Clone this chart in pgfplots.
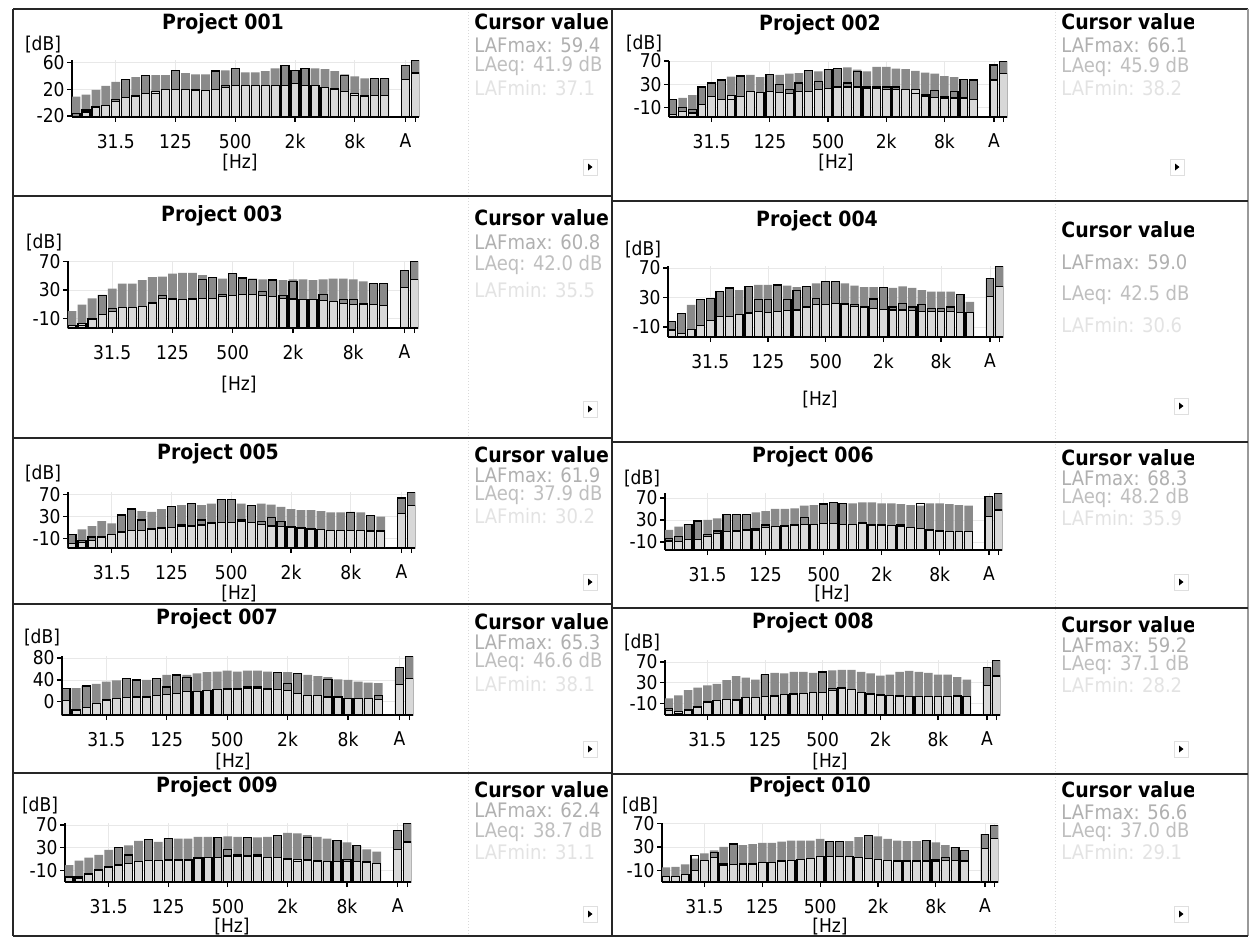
\documentclass[border=0pt]{standalone}
\usepackage{pgfplots}
\pgfplotsset{compat=1.18}
\usepackage{pgfplotstable}
\usepackage{fontspec}
\setmainfont{DejaVu Sans Condensed}
\definecolor{dk}{HTML}{8A8A8A}
\definecolor{lt}{HTML}{D8D8D8}
\newcommand{\tfont}{\fontsize{9.5}{10}\selectfont}
\newcommand{\hfont}{\fontsize{10.5}{11}\selectfont\bfseries}
\newcommand{\cfont}{\fontsize{10}{11}\selectfont}

\pgfplotsset{
  panel/.style={
    scale only axis, anchor=north west,
    ybar, bar width=0.8,
    xmin=-0.4, xmax=34.45, ymin=0,
    axis x line*=bottom, axis y line*=left,
    xtick={4,10,16,22,28,33.1,34.1},
    xticklabels={31.5,125,500,2k,8k,A,{}},
    tick align=outside,
    major tick length=2.5pt,
    grid=major,
    grid style={gray!18,line width=0.4pt},
    tick style={black,line width=0.6pt},
    axis line style={black,line width=0.8pt},
    ticklabel style={font=\tfont},
    xticklabel style={yshift=-2.5pt},
    yticklabel style={inner sep=1pt},
    /pgf/number format/assume math mode=true,
  },
}
\newcommand{\bars}[2]{%
  \addplot[fill=dk, draw=none, bar shift=0pt, bar width=0.88] table[x=x, y expr=\thisrow{hi}+#2] {#1};
  \addplot[fill=lt, draw=none, bar shift=0pt] table[x=x, y expr=\thisrow{lo}+#2] {#1};
  \addplot[fill=none, draw=black, line width=0.6pt, bar shift=0pt] table[x=x, y expr=\thisrow{lo}+#2] {#1};
  \addplot[fill=none, draw=black, line width=0.6pt, bar shift=0pt] table[x=x, y expr=\thisrow{eq}+#2] {#1};
}
% cursor panel: x, clip right, y title, y max, y eq, y min, max, eq, min
\newcommand{\cursor}[9]{%
  \begin{scope}
    \clip (#1-4,#3-16) rectangle (#2,#6+16);
    \node[anchor=west, font=\hfont, inner sep=0] at (#1,#3) {Cursor value};
    \node[anchor=west, font=\cfont, text=gray!62, inner sep=0] at (#1,#4) {LAFmax: #7};
    \node[anchor=west, font=\cfont, text=gray!50, inner sep=0] at (#1,#5) {LAeq: #8 dB};
    \node[anchor=west, font=\cfont, text=gray!22, inner sep=0] at (#1,#6) {LAFmin: #9};
  \end{scope}}
\newcommand{\btn}[2]{%
  \draw[gray!25, line width=0.4pt] (#1-7,#2-8) rectangle (#1+7,#2+8);
  \fill[black] (#1-2,#2-3.5) -- (#1+2.5,#2) -- (#1-2,#2+3.5) -- cycle;}

\pgfplotstableread{
x lo hi eq
0 -21 9 -16
1 -11 12 -14
2 -7 19 -6
3 -4 25 -4
4 2 31 4
5 8 35 35
6 10 38 9
7 13 40 40
8 16 41 14
9 19 41 19
10 19 48 48
11 19 44 19
12 18 42 19
13 18 42 18
14 20 47 47
15 23 48 25
16 25 51 51
17 25 45 25
18 25 45 25
19 25 47 25
20 26 51 25
21 26 55 55
22 29 48 48
23 26 51 51
24 25 51 26
25 23 50 23
26 20 47 21
27 16 42 40
28 14 39 11
29 11 36 9
30 11 36 36
31 11 36 36
33.1 35 55 55
34.1 44 63 63
}\tA
\pgfplotstableread{
x lo hi eq
0 -22 3 3
1 -18 6 -11
2 -20 11 -14
3 -6 25 25
4 8 32 32
5 3 37 37
6 10 43 3
7 8 44 44
8 17 46 17
9 15 42 15
10 17 46 46
11 15 46 29
12 14 48 20
13 17 49 32
14 17 53 53
15 21 52 34
16 23 55 55
17 25 57 57
18 25 59 32
19 25 55 52
20 23 52 25
21 23 60 25
22 21 60 25
23 21 57 25
24 21 56 21
25 20 53 14
26 11 50 9
27 7 48 19
28 6 44 8
29 6 42 17
30 6 38 38
31 4 37 37
33.1 37 63 63
34.1 48 69 69
}\tB
\pgfplotstableread{
x lo hi eq
0 -20 0 -20
1 -18 9 -20
2 -12 18 -10
3 -5 23 22
4 -1 32 4
5 5 39 5
6 5 39 5
7 6 44 6
8 11 48 12
9 18 49 22
10 18 53 16
11 16 54 16
12 17 54 17
13 18 51 45
14 18 48 48
15 21 46 24
16 22 53 53
17 23 48 47
18 23 46 45
19 22 45 28
20 21 44 44
21 18 44 22
22 17 45 42
23 16 45 16
24 16 44 16
25 15 45 23
26 14 46 14
27 11 46 16
28 9 45 16
29 9 42 11
30 9 39 39
31 8 39 39
33.1 33 58 58
34.1 45 70 70
}\tC
\pgfplotstableread{
x lo hi eq
0 -14 -3 -3
1 -19 8 8
2 -13 20 -13
3 -8 27 27
4 -1 29 29
5 4 38 38
6 4 43 43
7 7 40 7
8 9 45 45
9 11 47 27
10 10 47 27
11 11 47 47
12 12 46 27
13 13 44 40
14 17 45 45
15 20 49 29
16 20 52 52
17 22 52 52
18 21 49 22
19 18 46 20
20 17 44 17
21 15 44 28
22 14 44 44
23 13 43 17
24 13 45 22
25 12 43 17
26 11 40 20
27 11 38 15
28 11 38 15
29 11 38 17
30 10 34 34
31 10 24 10
33.1 31 56 56
34.1 45 72 72
}\tD
\pgfplotstableread{
x lo hi eq
0 -20 -4 -4
1 -18 6 -14
2 -14 12 -8
3 -8 21 -8
4 -4 17 -4
5 1 32 32
6 4 43 43
7 4 39 23
8 6 38 8
9 8 43 9
10 9 47 47
11 12 50 15
12 12 53 53
13 14 50 23
14 17 53 18
15 18 61 61
16 18 61 61
17 20 53 23
18 18 50 50
19 15 53 21
20 12 51 27
21 11 47 21
22 9 43 11
23 8 41 9
24 6 41 8
25 6 39 6
26 4 37 4
27 4 37 4
28 4 38 37
29 4 37 4
30 3 31 31
31 3 29 3
33.1 35 63 63
34.1 50 73 73
}\tE
\pgfplotstableread{
x lo hi eq
0 -8 12 -3
1 -9 18 0
2 -6 22 22
3 -5 28 28
4 0 30 3
5 6 33 10
6 9 40 40
7 10 40 40
8 12 40 40
9 15 44 12
10 16 46 21
11 18 50 18
12 18 50 20
13 21 51 21
14 22 56 34
15 22 57 22
16 24 59 59
17 24 62 62
18 22 60 60
19 22 60 22
20 24 62 26
21 22 62 21
22 21 60 20
23 20 60 20
24 18 59 21
25 16 57 16
26 15 56 60
27 12 60 12
28 10 60 10
29 9 59 9
30 9 57 9
31 9 56 9
33.1 36 72 72
34.1 48 78 78
}\tF
\pgfplotstableread{
x lo hi eq
0 3 23 25
1 -15 25 -15
2 -10 29 29
3 -3 33 -3
4 3 37 4
5 6 39 6
6 8 43 43
7 9 41 40
8 9 40 9
9 11 43 43
10 14 49 27
11 15 49 49
12 19 49 45
13 19 52 19
14 20 54 20
15 23 55 23
16 23 57 25
17 23 55 25
18 25 57 27
19 25 57 27
20 23 55 25
21 22 54 54
22 20 54 33
23 15 52 52
24 12 49 12
25 11 47 11
26 9 45 41
27 8 41 9
28 6 40 6
29 6 37 6
30 6 35 6
31 4 34 12
33.1 31 62 62
34.1 43 82 82
}\tG
\pgfplotstableread{
x lo hi eq
0 -23 0 -20
1 -26 6 -29
2 -22 16 -23
3 -18 21 -15
4 -7 25 -7
5 -4 28 -4
6 -2 35 -2
7 -2 43 -4
8 2 40 2
9 2 36 2
10 3 46 46
11 4 49 6
12 8 48 8
13 9 51 8
14 9 51 9
15 11 49 12
16 12 51 51
17 16 54 19
18 19 55 21
19 17 55 17
20 12 51 12
21 9 48 8
22 8 44 6
23 6 46 6
24 6 51 4
25 4 53 4
26 4 51 3
27 4 49 4
28 4 46 4
29 4 46 3
30 6 41 4
31 4 36 3
33.1 25 60 60
34.1 43 73 73
}\tH
\pgfplotstableread{
x lo hi eq
0 -22 -1 -22
1 -21 7 -24
2 -16 12 -17
3 -10 17 -9
4 -5 26 -4
5 -1 30 30
6 2 34 17
7 5 42 5
8 7 44 44
9 7 40 7
10 8 46 46
11 9 46 8
12 9 46 8
13 11 49 12
14 12 49 13
15 12 48 48
16 15 50 27
17 15 49 17
18 15 48 48
19 15 48 17
20 12 49 13
21 12 52 52
22 11 56 9
23 9 55 6
24 8 52 48
25 7 49 5
26 5 46 5
27 5 42 42
28 5 39 9
29 5 33 33
30 3 27 6
31 2 23 2
33.1 26 60 60
34.1 40 72 72
}\tI
\pgfplotstableread{
x lo hi eq
0 -20 -5 -20
1 -20 -4 -21
2 -17 0 -17
3 -10 10 16
4 7 19 7
5 12 24 21
6 1 30 -1
7 0 35 35
8 1 33 1
9 1 35 1
10 3 37 3
11 4 37 4
12 6 39 6
13 7 41 7
14 8 41 8
15 10 41 10
16 13 44 14
17 14 40 40
18 14 40 40
19 13 40 14
20 12 47 12
21 10 50 50
22 8 48 9
23 7 44 7
24 6 41 6
25 6 40 6
26 6 40 6
27 6 41 41
28 6 38 8
29 7 33 12
30 7 29 29
31 6 24 24
33.1 27 52 52
34.1 44 67 67
}\tJ

\begin{document}
\begin{tikzpicture}
\useasboundingbox (0,0) rectangle (625pt,-469pt);
\fill[white] (0,0) rectangle (625pt,-469pt);

% ---------- axes ----------
\begin{axis}[panel, at={(36pt,-30pt)}, width=173.5pt, height=28.5pt, ymax=85,
  ytick={1.5,41.5,81.5}, yticklabels={-20,20,60}]
\bars{\tA}{21.5}
\end{axis}
\begin{axis}[panel, at={(334.5pt,-30.5pt)}, width=169pt, height=28pt, ymax=97,
  ytick={17,57,97}, yticklabels={-10,30,70}]
\bars{\tB}{27}
\end{axis}
\begin{axis}[panel, at={(34pt,-130.5pt)}, width=175pt, height=33.5pt, ymax=95,
  ytick={14,54,94}, yticklabels={-10,30,70}]
\bars{\tC}{24}
\end{axis}
\begin{axis}[panel, at={(334pt,-133pt)}, width=167.5pt, height=35.5pt, ymax=96.3,
  ytick={13.6,53.6,93.6}, yticklabels={-10,30,70}]
\bars{\tD}{23.6}
\end{axis}
\begin{axis}[panel, at={(34pt,-246pt)}, width=173.5pt, height=28pt, ymax=102,
  ytick={18,58,98}, yticklabels={-10,30,70}]
\bars{\tE}{28}
\end{axis}
\begin{axis}[panel, at={(332.5pt,-246.5pt)}, width=168.5pt, height=28.5pt, ymax=103.5,
  ytick={14.5,54.5,94.5}, yticklabels={-10,30,70}]
\bars{\tF}{24.5}
\end{axis}
\begin{axis}[panel, at={(31pt,-328pt)}, width=175.5pt, height=29.5pt, ymax=107.6,
  ytick={24,64,104}, yticklabels={0,40,80}]
\bars{\tG}{24}
\end{axis}
\begin{axis}[panel, at={(332.5pt,-330pt)}, width=167.5pt, height=27.5pt, ymax=106,
  ytick={22,62,102}, yticklabels={-10,30,70}]
\bars{\tH}{32}
\end{axis}
\begin{axis}[panel, at={(32.5pt,-411.5pt)}, width=173pt, height=29.5pt, ymax=104.5,
  ytick={21,61,101}, yticklabels={-10,30,70}]
\bars{\tI}{31}
\end{axis}
\begin{axis}[panel, at={(331pt,-411.5pt)}, width=168pt, height=29.5pt, ymax=101,
  ytick={20,60,100}, yticklabels={-10,30,70}]
\bars{\tJ}{30}
\end{axis}

% ---------- texts and frame (pixel coordinates) ----------
\begin{scope}[x=0.5pt,y=-0.5pt]
  % titles
  \node[font=\hfont] at (223,24) {Project 001};
  \node[font=\hfont] at (820,25) {Project 002};
  \node[font=\hfont] at (222,216) {Project 003};
  \node[font=\hfont] at (817,221) {Project 004};
  \node[font=\hfont] at (218,454) {Project 005};
  \node[font=\hfont] at (813,457) {Project 006};
  \node[font=\hfont] at (217,619) {Project 007};
  \node[font=\hfont] at (813,623) {Project 008};
  \node[font=\hfont] at (217,787) {Project 009};
  \node[font=\hfont] at (810,787) {Project 010};
  % [dB]
  \node[font=\tfont] at (43,45) {[dB]};
  \node[font=\tfont] at (644,44) {[dB]};
  \node[font=\tfont] at (44,243) {[dB]};
  \node[font=\tfont] at (643,250) {[dB]};
  \node[font=\tfont] at (43,474) {[dB]};
  \node[font=\tfont] at (642,479) {[dB]};
  \node[font=\tfont] at (42,638) {[dB]};
  \node[font=\tfont] at (642,643) {[dB]};
  \node[font=\tfont] at (40,806) {[dB]};
  \node[font=\tfont] at (640,806) {[dB]};
  % [Hz]
  \node[font=\tfont] at (240,163) {[Hz]};
  \node[font=\tfont] at (836,163) {[Hz]};
  \node[font=\tfont] at (239,385) {[Hz]};
  \node[font=\tfont] at (820,400) {[Hz]};
  \node[font=\tfont] at (239,594) {[Hz]};
  \node[font=\tfont] at (832,594) {[Hz]};
  \node[font=\tfont] at (233,762) {[Hz]};
  \node[font=\tfont] at (830,762) {[Hz]};
  \node[font=\tfont] at (232,927) {[Hz]};
  \node[font=\tfont] at (830,927) {[Hz]};
  % cursor panels
  \cursor{474}{607}{22}{45}{66}{88}{59.4}{41.9}{37.1}
  \cursor{1061}{1193}{22}{45}{67}{88}{66.1}{45.9}{38.2}
  \cursor{474}{607}{218}{242}{265}{290}{60.8}{42.0}{35.5}
  \cursor{1061}{1193}{230}{262}{295}{325}{59.0}{42.5}{30.6}
  \cursor{474}{607}{455}{475}{495}{516}{61.9}{37.9}{30.2}
  \cursor{1061}{1193}{458}{478}{498}{518}{68.3}{48.2}{35.9}
  \cursor{474}{607}{622}{642}{662}{684}{65.3}{46.6}{38.1}
  \cursor{1061}{1193}{625}{645}{665}{685}{59.2}{37.1}{28.2}
  \cursor{474}{607}{790}{810}{832}{852}{62.4}{38.7}{31.1}
  \cursor{1061}{1193}{790}{812}{832}{852}{56.6}{37.0}{29.1}
  % buttons
  \btn{590}{167} \btn{1177}{167}
  \btn{590}{409} \btn{1181}{406}
  \btn{590}{582} \btn{1181}{582}
  \btn{590}{749} \btn{1181}{749}
  \btn{590}{914} \btn{1181}{914}
  % faint separators
  \draw[gray!30, densely dotted, line width=0.5pt] (468,12) -- (468,934);
  \draw[gray!30, densely dotted, line width=0.5pt] (1055,12) -- (1055,934);
  % table frame
  \begin{scope}[line width=0.7pt, black!85]
    \draw (13,9) -- (1248,9);
    \draw (13,9) -- (13,936);
    \draw (612,9) -- (612,936);
    \draw[black!40] (1248,9) -- (1248,936);
    \draw (13,196) -- (612,196);
    \draw (13,438) -- (612,438);
    \draw (13,604) -- (612,604);
    \draw (13,773) -- (612,773);
    \draw (13,936) -- (612,936);
    \draw (612,201) -- (1248,201);
    \draw (612,442) -- (1248,442);
    \draw (612,608) -- (1248,608);
    \draw (612,774) -- (1248,774);
    \draw (612,936) -- (1248,936);
  \end{scope}
\end{scope}
\end{tikzpicture}
\end{document}
